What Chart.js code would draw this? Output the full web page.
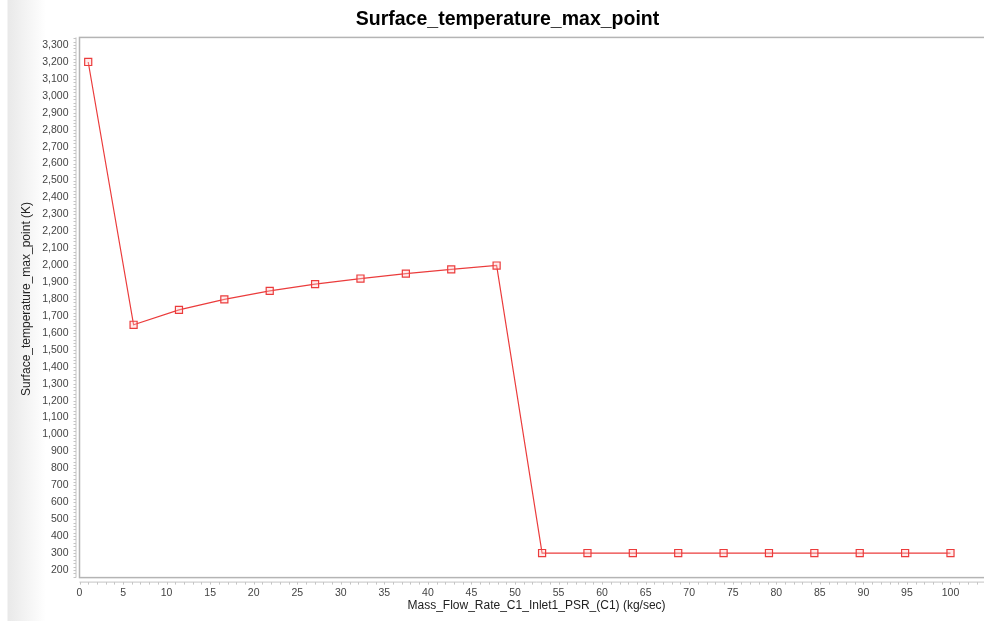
<!DOCTYPE html>
<html>
<head>
<meta charset="utf-8">
<script src="https://cdn.jsdelivr.net/npm/chart.js@4/dist/chart.umd.min.js"></script>
<style>
html,body{margin:0;padding:0;overflow:hidden;width:984px;height:621px;}
body{background:linear-gradient(to right,#ffffff 0px,#ffffff 7px,#e9e9e9 8px,#ffffff 46px,#ffffff 100%);}
#wrap{position:absolute;left:0;top:0;width:1015px;height:621px;}
</style>
</head>
<body>
<div id="wrap"><canvas id="c" width="1015" height="621"></canvas></div>
<script>
const chartTitle = "Surface_temperature_max_point";
const xTitle = "Mass_Flow_Rate_C1_Inlet1_PSR_(C1) (kg/sec)";
const yTitle = "Surface_temperature_max_point (K)";
const massFlow = [1, 6.21, 11.42, 16.63, 21.84, 27.05, 32.26, 37.47, 42.68, 47.89,
                  53.11, 58.32, 63.53, 68.74, 73.95, 79.16, 84.37, 89.58, 94.79, 100];
const surfTemp = [3200, 1648, 1736, 1798, 1848, 1888, 1921, 1950, 1975, 1998,
                  300, 300, 300, 300, 300, 300, 300, 300, 300, 300];
const xTicks = [0,5,10,15,20,25,30,35,40,45,50,55,60,65,70,75,80,85,90,95,100];
const yTicks = [200,300,400,500,600,700,800,900,1000,1100,1200,1300,1400,1500,1600,1700,1800,1900,2000,2100,2200,2300,2400,2500,2600,2700,2800,2900,3000,3100,3200,3300];

const points = massFlow.map((x, i) => ({x: x, y: surfTemp[i]}));

const frame = {
  id: 'frame',
  afterDraw(chart) {
    const ctx = chart.ctx, a = chart.chartArea;
    const xs = chart.scales.x, ys = chart.scales.y;
    ctx.save();
    // plot border
    ctx.strokeStyle = '#b4b4b4';
    ctx.lineWidth = 1.5;
    ctx.strokeRect(a.left, a.top, a.right - a.left, a.bottom - a.top);
    // y axis line + minor ticks
    ctx.strokeStyle = '#c4c4c4';
    ctx.lineWidth = 1;
    const yx = a.left - 3.5;
    ctx.beginPath();
    ctx.moveTo(yx, a.top); ctx.lineTo(yx, a.bottom);
    for (let v = 160; v <= 3340; v += 20) {
      const py = Math.round(ys.getPixelForValue(v)) + 0.5;
      if (py < a.top || py > a.bottom) continue;
      ctx.moveTo(yx - 2.5, py); ctx.lineTo(yx, py);
    }
    ctx.stroke();
    // x axis line + minor ticks
    const xy = a.bottom + 4.5;
    ctx.beginPath();
    ctx.moveTo(a.left, xy); ctx.lineTo(a.right, xy);
    for (let v = 0; v <= 104; v += 1) {
      const px = Math.round(xs.getPixelForValue(v)) + 0.5;
      ctx.moveTo(px, xy); ctx.lineTo(px, xy + 2.5);
    }
    ctx.stroke();
    // y title
    ctx.fillStyle = '#222';
    ctx.font = '12px "Liberation Sans", Arial, sans-serif';
    ctx.textAlign = 'center';
    ctx.textBaseline = 'middle';
    ctx.translate(27, 299);
    ctx.rotate(-Math.PI / 2);
    ctx.fillText(yTitle, 0, 0);
    ctx.restore();
  }
};

new Chart(document.getElementById('c'), {
  type: 'scatter',
  data: {
    datasets: [{
      data: points,
      showLine: true,
      borderColor: 'rgb(235,60,60)',
      borderWidth: 1.2,
      pointStyle: 'rect',
      pointRadius: 5,
      pointBorderWidth: 1.2,
      pointBackgroundColor: 'rgba(255,200,200,0.35)',
      pointBorderColor: 'rgb(235,60,60)',
      tension: 0
    }]
  },
  options: {
    responsive: false,
    animation: false,
    devicePixelRatio: 1,
    layout: { padding: { left: 21.4, right: 21.4, top: 0, bottom: 0 } },
    plugins: {
      legend: { display: false },
      tooltip: { enabled: false },
      title: {
        display: true,
        text: chartTitle,
        color: '#000',
        font: { family: '"Liberation Sans", Arial, sans-serif', size: 19.5, weight: 'bold', lineHeight: 1.15 },
        padding: { top: 8, bottom: 7 }
      }
    },
    scales: {
      x: {
        type: 'linear',
        min: 0,
        max: 104.95,
        grid: { display: false },
        border: { display: false },
        afterBuildTicks(s) { s.ticks = xTicks.map(v => ({value: v})); },
        afterFit(s) { s.height = 43.4; },
        ticks: {
          autoSkip: false, maxRotation: 0, padding: 1.5,
          color: '#444',
          font: { family: '"Liberation Sans", Arial, sans-serif', size: 10.5 },
          callback: v => String(v)
        },
        title: {
          display: true, text: xTitle, color: '#222',
          font: { family: '"Liberation Sans", Arial, sans-serif', size: 12 },
          padding: { top: 0, bottom: 8.5 }
        }
      },
      y: {
        type: 'linear',
        min: 155,
        max: 3345,
        grid: { display: false },
        border: { display: false },
        afterBuildTicks(s) { s.ticks = yTicks.map(v => ({value: v})); },
        afterFit(s) { s.width = 58.1; },
        ticks: {
          autoSkip: false, padding: 3,
          color: '#444',
          font: { family: '"Liberation Sans", Arial, sans-serif', size: 10.5 },
          callback: v => Number(v).toLocaleString('en-US')
        }
      }
    }
  },
  plugins: [frame]
});
</script>
</body>
</html>
